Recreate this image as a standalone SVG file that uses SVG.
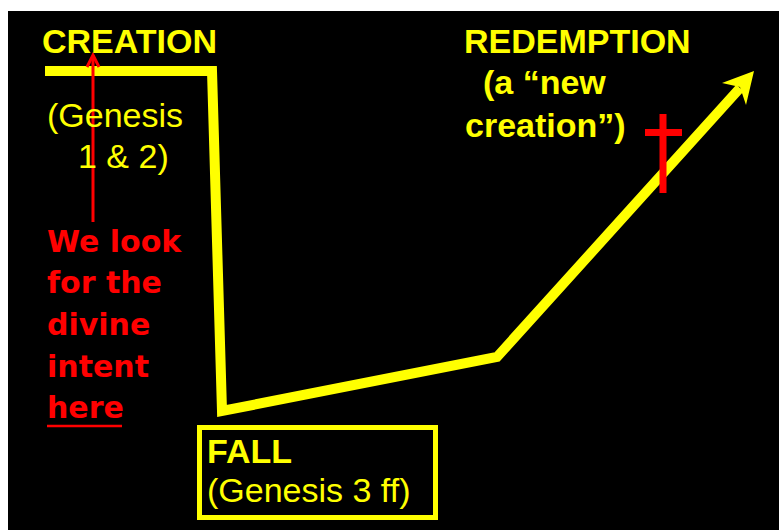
<svg xmlns="http://www.w3.org/2000/svg" width="779" height="530" viewBox="0 0 779 530">
<style>
.y{fill:#ffff00;font-family:"Liberation Sans",Arial,sans-serif;font-size:34px}
.b{font-weight:bold}
.r{fill:#ff0000;font-family:"Comic Sans MS","DejaVu Sans",sans-serif;font-weight:bold;font-size:30px}
.yl{fill:none;stroke:#ffff00;stroke-width:10;stroke-linejoin:miter;stroke-miterlimit:10}
.rl{fill:none;stroke:#ff0000;stroke-width:3}
</style>
<rect x="0" y="0" width="779" height="530" fill="#ffffff"/>
<rect x="8" y="11" width="771" height="519" fill="#000000"/>
<g id="connectors">
<polyline class="yl" points="45,71 212,71 222,411 497,357 740,88"/>
<polygon points="754,71 722,83 740,87 746,105" fill="#ffff00"/>
<line class="rl" x1="93" y1="222" x2="93" y2="56"/>
<polyline class="rl" points="87,67 93,55 99,67" stroke-linejoin="miter"/>
</g>
<g id="creation">
<text class="y b" x="42" y="53" font-size="35">CREATION</text>
<text class="y" x="47" y="127">(Genesis</text>
<text class="y" x="78" y="168">1 &amp; 2)</text>
</g>
<g id="intent">
<text class="r" x="47" y="252">We look</text>
<text class="r" x="47" y="293">for the</text>
<text class="r" x="47" y="335">divine</text>
<text class="r" x="47" y="377">intent</text>
<text class="r" x="47" y="418">here</text>
<line x1="47" y1="426" x2="122" y2="426" stroke="#ff0000" stroke-width="2.5"/>
</g>
<g id="fall">
<rect x="199.5" y="427.5" width="236" height="90" fill="none" stroke="#ffff00" stroke-width="5"/>
<text class="y b" x="207" y="463">FALL</text>
<text class="y" x="207" y="502">(Genesis 3 ff)</text>
</g>
<g id="redemption">
<text class="y b" x="464" y="53">REDEMPTION</text>
<text class="y b" x="483" y="94">(a “new</text>
<text class="y b" x="465" y="137">creation”)</text>
</g>
<g id="cross">
<rect x="659.5" y="114" width="7" height="79" fill="#ff0000"/>
<rect x="645" y="129" width="37" height="7" fill="#ff0000"/>
</g>
</svg>
